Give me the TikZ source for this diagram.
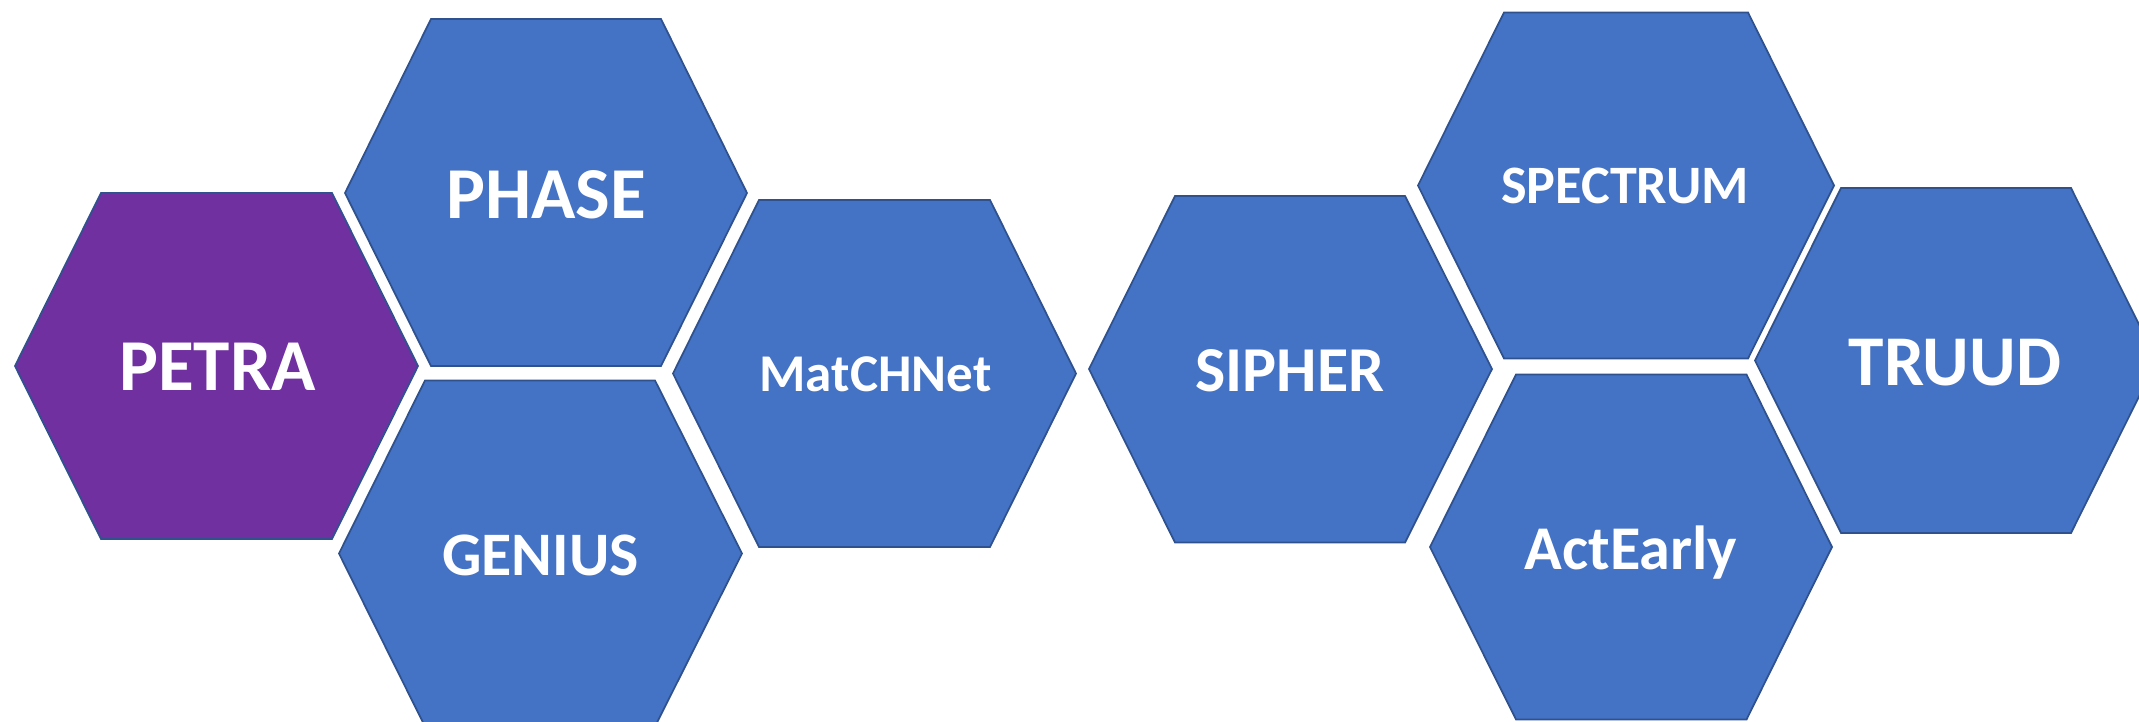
\documentclass[tikz,border=0pt]{standalone}
\usepackage{fontspec}
\setmainfont{Carlito}
\definecolor{hexblue}{HTML}{4472C4}
\definecolor{hexpurple}{HTML}{7030A0}
\definecolor{hexline}{HTML}{2F528F}
\tikzset{
  hexb/.style={fill=hexblue, draw=hexline, line width=0.5pt, line join=miter},
  hexp/.style={fill=hexpurple, draw=hexline, line width=0.5pt, line join=miter},
  lbl/.style={anchor=base, text=white, inner sep=0pt, font=\bfseries}
}
\begin{document}
\begin{tikzpicture}[x=0.01cm, y=-0.01cm]
\useasboundingbox (0,0) rectangle (2139,721);
\clip (0,0) rectangle (2139,721);
% hexagons
\draw[hexp] (15,366) -- (101,193) -- (332,193) -- (418,366) -- (332,539) -- (101,539) -- cycle;
\draw[hexb] (345,193) -- (431,19) -- (661,19) -- (747,193) -- (661,366) -- (431,366) -- cycle;
\draw[hexb] (339,553.5) -- (425,380.5) -- (655,380.5) -- (742,553.5) -- (655,726.5) -- (425,726.5) -- cycle;
\draw[hexb] (673,373.5) -- (759,200) -- (990,200) -- (1076,373.5) -- (990,547) -- (759,547) -- cycle;
\draw[hexb] (1089,369) -- (1175,196) -- (1405,196) -- (1492,369) -- (1405,542.5) -- (1175,542.5) -- cycle;
\draw[hexb] (1418,185.5) -- (1504,12.5) -- (1748,12.5) -- (1834,185.5) -- (1748,358.5) -- (1504,358.5) -- cycle;
\draw[hexb] (1755,360.5) -- (1841,188) -- (2071,188) -- (2157,360.5) -- (2071,533) -- (1841,533) -- cycle;
\draw[hexb] (1430,547) -- (1516,374.5) -- (1746.5,374.5) -- (1832,547) -- (1746.5,719.5) -- (1516,719.5) -- cycle;
% labels
\node[lbl, font=\bfseries\fontsize{20.8pt}{24pt}\selectfont] (petra) at (217.5,390.5) {PETRA};
\node[lbl, font=\bfseries\fontsize{20.8pt}{24pt}\selectfont] (phase) at (546,218) {PHASE};
\node[lbl, font=\bfseries\fontsize{17.6pt}{20pt}\selectfont] (genius) at (540.5,575) {GENIUS};
\node[lbl, font=\bfseries\fontsize{15.1pt}{18pt}\selectfont] (matchnet) at (875.5,391.5) {MatCHNet};
\node[lbl, font=\bfseries\fontsize{18.2pt}{21pt}\selectfont] (sipher) at (1290,391) {SIPHER};
\node[lbl, font=\bfseries\fontsize{15.4pt}{18pt}\selectfont] (spectrum) at (1625,203.5) {SPECTRUM};
\node[lbl, font=\bfseries\fontsize{20.3pt}{24pt}\selectfont] (truud) at (1955,385) {TRUUD};
\node[lbl, font=\bfseries\fontsize{17.7pt}{21pt}\selectfont] (actearly) at (1631,569) {ActEarly};
\end{tikzpicture}
\end{document}
